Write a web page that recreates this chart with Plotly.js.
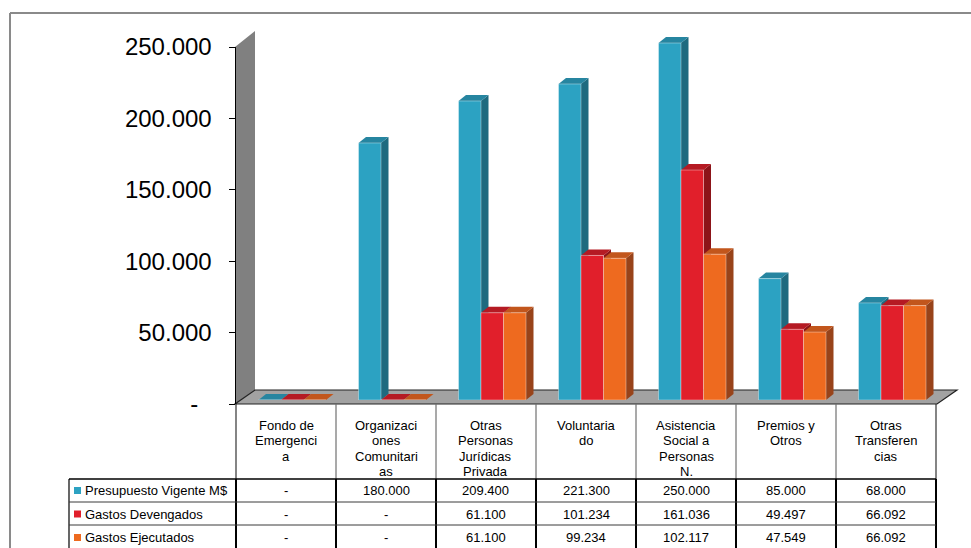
<!DOCTYPE html>
<html>
<head>
<meta charset="utf-8">
<script src="https://cdn.plot.ly/plotly-3.0.1.min.js"></script>
<style>
  html, body { margin: 0; padding: 0; background: #ffffff; }
  #chart { width: 971px; height: 548px; }
</style>
</head>
<body>
<div id="chart"></div>
<script>
// ---- data ----
const categoryLines = [
  ["Fondo de", "Emergenci", "a"],
  ["Organizaci", "ones", "Comunitari", "as"],
  ["Otras", "Personas", "Jurídicas", "Privada"],
  ["Voluntaria", "do"],
  ["Asistencia", "Social a", "Personas", "N."],
  ["Premios y", "Otros"],
  ["Otras", "Transferen", "cias"]
];
const seriesNames = ["Presupuesto Vigente M$", "Gastos Devengados", "Gastos Ejecutados"];
const presupuesto = [0, 180000, 209400, 221300, 250000, 85000, 68000];
const devengados  = [0, 0, 61100, 101234, 161036, 49497, 66092];
const ejecutados  = [0, 0, 61100, 99234, 102117, 47549, 66092];
const yTickVals = [0, 50000, 100000, 150000, 200000, 250000];
const yTickText = ["-\u00a0\u00a0", "50.000", "100.000", "150.000", "200.000", "250.000"];

// ---- styling ----
const W = 971, H = 548;
const FONT = "Liberation Sans, Arial, Helvetica, sans-serif";
const frontColors = ["#2ca2c2", "#e11f2b", "#ee6a1f"];
const sideColors  = ["#1e6a7f", "#8c1419", "#98431a"];
const topColors   = ["#2685a0", "#b51a23", "#c2561c"];
const barWidth = 0.225;
const barOffsets = [-0.275, -0.05, 0.175];

// plot geometry (pixels)
const plotLeft = 236, plotRight = 936;
const barBase = 400, barTop = 43;      // 0 and yMax on the bar axis
const barAxisTop = 20;                 // headroom so top faces are not clipped
const tickBase = 404, tickTop = 47;    // 0 and yMax on the labelled axis
const yMax = 250000;
const depthPx = { x: 7.5, y: 6 };
const xUnitsPerPx = 7 / (plotRight - plotLeft);
const yUnitsPerPx = yMax / (barBase - barTop);
const dX = depthPx.x * xUnitsPerPx;
const dY = depthPx.y * yUnitsPerPx;
const barAxisMax = (barBase - barAxisTop) * yUnitsPerPx;

const px = x => x / W;
const py = y => 1 - y / H;

const series = [presupuesto, devengados, ejecutados];
const xIdx = categoryLines.map((_, i) => i);

function fmt(v) {
  return v === 0 ? "-" : String(Math.round(v)).replace(/\B(?=(\d{3})+(?!\d))/g, ".");
}

// ---- bars (front faces) ----
const traces = series.map((vals, s) => ({
  type: "bar",
  name: seriesNames[s],
  x: xIdx,
  y: vals,
  width: barWidth,
  offset: barOffsets[s],
  xaxis: "x",
  yaxis: "y",
  marker: { color: frontColors[s], line: { width: 0.8, color: "rgba(255,255,255,0.45)" } },
  hoverinfo: "skip",
  showlegend: false
}));
// binds the labelled value axis to the same budget series (draws nothing)
traces.push({ type: "scatter", mode: "none", x: xIdx, y: presupuesto, xaxis: "x", yaxis: "y2",
  hoverinfo: "skip", showlegend: false });

// ---- shapes ----
const shapes = [];

// outer frame
shapes.push({ type: "line", xref: "paper", yref: "paper", x0: px(10), x1: px(971), y0: py(13), y1: py(13),
  line: { color: "#8a8a8a", width: 2 }, layer: "below" });
shapes.push({ type: "line", xref: "paper", yref: "paper", x0: px(10), x1: px(10), y0: py(13), y1: py(548),
  line: { color: "#8a8a8a", width: 2 }, layer: "below" });

// side wall and floor
const poly = pts => "M" + pts.map(p => px(p[0]) + "," + py(p[1])).join("L") + "Z";
shapes.push({ type: "path", xref: "paper", yref: "paper", layer: "below",
  path: poly([[235, 404], [235, 47], [255, 31], [255, 390]]),
  fillcolor: "#808080", line: { width: 0 } });
shapes.push({ type: "path", xref: "paper", yref: "paper", layer: "below",
  path: poly([[235, 404], [937, 404], [957, 390], [255, 390]]),
  fillcolor: "#a2a2a2", line: { color: "#222222", width: 1.2 } });

// 3-D side and top faces of each bar, built from the same values
series.forEach((vals, s) => {
  vals.forEach((v, i) => {
    const xl = i + barOffsets[s];
    const xr = xl + barWidth;
    shapes.push({ type: "path", xref: "x", yref: "y", layer: "below",
      path: `M${xr},0L${xr},${v}L${xr + dX},${v + dY}L${xr + dX},${dY}Z`,
      fillcolor: sideColors[s], line: { width: 0 } });
    shapes.push({ type: "path", xref: "x", yref: "y", layer: "below",
      path: `M${xl},${v}L${xr},${v}L${xr + dX},${v + dY}L${xl + dX},${v + dY}Z`,
      fillcolor: topColors[s], line: { width: 0 } });
  });
});

// data table grid
const colEdges = categoryLines.map((_, i) => plotLeft + i * 100).concat([plotLeft + categoryLines.length * 100]);
const headerTop = 404, headerBottom = 479;
const rowLines = [502, 525];
const tableBottom = 548;
const legendLeft = 69;

colEdges.forEach((x, k) => {
  const outer = (k === 0 || k === colEdges.length - 1);
  shapes.push({ type: "line", xref: "paper", yref: "paper", x0: px(x), x1: px(x), y0: py(headerTop), y1: py(headerBottom),
    line: { color: outer ? "#333333" : "#707070", width: 1.2 } });
  shapes.push({ type: "line", xref: "paper", yref: "paper", x0: px(x), x1: px(x), y0: py(headerBottom), y1: py(tableBottom),
    line: { color: "#000000", width: 2 } });
});
shapes.push({ type: "line", xref: "paper", yref: "paper", x0: px(legendLeft), x1: px(legendLeft), y0: py(headerBottom), y1: py(tableBottom),
  line: { color: "#000000", width: 1.2 } });
shapes.push({ type: "line", xref: "paper", yref: "paper", x0: px(legendLeft), x1: px(colEdges[colEdges.length - 1]), y0: py(headerBottom), y1: py(headerBottom),
  line: { color: "#000000", width: 1.5 } });
rowLines.forEach(y => {
  shapes.push({ type: "line", xref: "paper", yref: "paper", x0: px(legendLeft), x1: px(colEdges[colEdges.length - 1]), y0: py(y), y1: py(y),
    line: { color: "#3a3a3a", width: 1 } });
});

// ---- table text ----
const annotations = [];
const colCenter = i => plotLeft + 50 + i * 100;
const headerFirstLine = 425, headerLineStep = 15.6;
categoryLines.forEach((lines, i) => {
  lines.forEach((t, j) => {
    annotations.push({ xref: "paper", yref: "paper", x: px(colCenter(i)), y: py(headerFirstLine + j * headerLineStep),
      xanchor: "center", yanchor: "middle", showarrow: false, text: t,
      font: { family: FONT, size: 13, color: "#000000" } });
  });
});
const rowCenters = [490.5, 514, 537.5];
series.forEach((vals, s) => {
  vals.forEach((v, i) => {
    annotations.push({ xref: "paper", yref: "paper", x: px(colCenter(i)), y: py(rowCenters[s]),
      xanchor: "center", yanchor: "middle", showarrow: false, text: fmt(v),
      font: { family: FONT, size: 13, color: "#000000" } });
  });
  annotations.push({ xref: "paper", yref: "paper", x: px(83), y: py(rowCenters[s]),
    xanchor: "left", yanchor: "middle", showarrow: false, text: seriesNames[s],
    font: { family: FONT, size: 13, color: "#000000" } });
  shapes.push({ type: "rect", xref: "paper", yref: "paper",
    x0: px(74), x1: px(81), y0: py(rowCenters[s] - 3.5), y1: py(rowCenters[s] + 3.5),
    fillcolor: frontColors[s], line: { width: 0 } });
});

// ---- layout ----
const layout = {
  width: W, height: H,
  margin: { l: 0, r: 0, t: 0, b: 0 },
  paper_bgcolor: "#ffffff",
  plot_bgcolor: "rgba(0,0,0,0)",
  barmode: "overlay",
  showlegend: false,
  xaxis: {
    domain: [px(plotLeft), px(plotRight)], range: [-0.5, categoryLines.length - 0.5],
    showgrid: false, zeroline: false, showline: false, showticklabels: false, ticks: "", fixedrange: true, anchor: "y"
  },
  yaxis: {
    domain: [py(barBase), py(barAxisTop)], range: [0, barAxisMax],
    showgrid: false, zeroline: false, showline: false, showticklabels: false, ticks: "", fixedrange: true, anchor: "x"
  },
  yaxis2: {
    domain: [py(tickBase), py(tickTop)], range: [0, yMax], anchor: "x", side: "left",
    tickmode: "array", tickvals: yTickVals, ticktext: yTickText,
    ticks: "outside", ticklen: 6, tickwidth: 1, tickcolor: "#000000",
    showline: true, linecolor: "#000000", linewidth: 1.5,
    showgrid: false, zeroline: false, fixedrange: true,
    ticklabelstandoff: 12,
    tickfont: { family: FONT, size: 24, color: "#000000" }
  },
  shapes: shapes,
  annotations: annotations
};

Plotly.newPlot("chart", traces, layout, { staticPlot: true, displayModeBar: false });
</script>
</body>
</html>
